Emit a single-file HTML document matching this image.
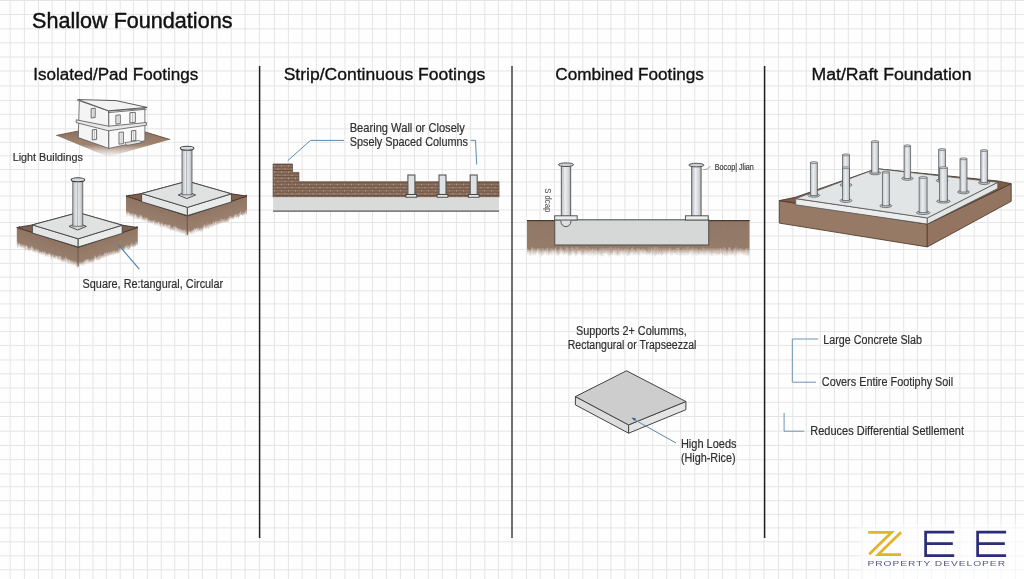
<!DOCTYPE html>
<html><head><meta charset="utf-8"><style>
html,body{margin:0;padding:0;background:#fff;width:1024px;height:579px;overflow:hidden}
svg{display:block;will-change:transform}
text{font-family:"Liberation Sans",sans-serif}
</style></head><body>
<svg width="1024" height="579" viewBox="0 0 1024 579">
<rect width="1024" height="579" fill="#fefefe"/>
<path d="M10.2 0V579 M24.4 0V579 M38.4 0V579 M52.1 0V579 M65.6 0V579 M79.6 0V579 M93.0 0V579 M106.3 0V579 M120.2 0V579 M133.4 0V579 M147.4 0V579 M161.3 0V579 M174.7 0V579 M188.6 0V579 M202.4 0V579 M216.8 0V579 M231.2 0V579 M245.1 0V579 M259.4 0V579 M274.4 0V579 M288.4 0V579 M302.1 0V579 M316.4 0V579 M330.5 0V579 M344.9 0V579 M358.9 0V579 M372.5 0V579 M386.4 0V579 M400.4 0V579 M414.4 0V579 M428.4 0V579 M442.3 0V579 M456.4 0V579 M470.6 0V579 M484.8 0V579 M498.4 0V579 M512.0 0V579 M526.4 0V579 M540.2 0V579 M554.4 0V579 M568.8 0V579 M582.8 0V579 M597.7 0V579 M610.9 0V579 M624.9 0V579 M638.6 0V579 M652.7 0V579 M666.7 0V579 M680.6 0V579 M694.7 0V579 M708.3 0V579 M722.5 0V579 M736.1 0V579 M749.8 0V579 M764.0 0V579 M778.6 0V579 M792.8 0V579 M806.3 0V579 M820.3 0V579 M834.4 0V579 M848.3 0V579 M862.0 0V579 M875.7 0V579 M889.8 0V579 M903.7 0V579 M917.4 0V579 M931.4 0V579 M945.4 0V579 M959.8 0V579 M974.2 0V579 M987.9 0V579 M1001.1 0V579 M1015.4 0V579 M0 0.5H1024 M0 14.5H1024 M0 28.8H1024 M0 42.8H1024 M0 57.0H1024 M0 71.0H1024 M0 86.0H1024 M0 100.4H1024 M0 114.4H1024 M0 128.8H1024 M0 142.3H1024 M0 155.8H1024 M0 169.5H1024 M0 182.0H1024 M0 196.0H1024 M0 210.0H1024 M0 222.5H1024 M0 236.0H1024 M0 249.5H1024 M0 263.3H1024 M0 277.1H1024 M0 290.8H1024 M0 303.9H1024 M0 317.8H1024 M0 331.6H1024 M0 345.4H1024 M0 360.0H1024 M0 373.8H1024 M0 388.0H1024 M0 402.3H1024 M0 416.5H1024 M0 431.2H1024 M0 445.4H1024 M0 459.7H1024 M0 473.9H1024 M0 486.7H1024 M0 500.7H1024 M0 514.4H1024 M0 527.9H1024 M0 541.8H1024 M0 555.8H1024 M0 569.8H1024" stroke="#e5e5e5" stroke-width="1" fill="none"/>
<path d="M259.6 66V538M764.6 66V538" stroke="#222" stroke-width="1.5"/>
<path d="M512 66V538" stroke="#444" stroke-width="1.5"/>
<text x="32" y="28.1" font-size="22" textLength="200.5" lengthAdjust="spacingAndGlyphs" fill="#111" stroke="#111" stroke-width="0.45">Shallow Foundations</text>
<text x="33.2" y="80.3" font-size="17.3" textLength="165" lengthAdjust="spacingAndGlyphs" fill="#111" stroke="#111" stroke-width="0.35">Isolated/Pad Footings</text>
<text x="283.7" y="80.3" font-size="17.3" textLength="201.5" lengthAdjust="spacingAndGlyphs" fill="#111" stroke="#111" stroke-width="0.35">Strip/Continuous Footings</text>
<text x="555.3" y="80.3" font-size="17.3" textLength="148.5" lengthAdjust="spacingAndGlyphs" fill="#111" stroke="#111" stroke-width="0.35">Combined Footings</text>
<text x="811.5" y="80.3" font-size="17.3" textLength="160" lengthAdjust="spacingAndGlyphs" fill="#111" stroke="#111" stroke-width="0.35">Mat/Raft Foundation</text>
<text x="12.7" y="161.3" font-size="11.7" textLength="70.2" lengthAdjust="spacingAndGlyphs" fill="#2e2e2e" stroke="#2e2e2e" stroke-width="0.18">Light Buildings</text>
<text x="82.6" y="287.9" font-size="12.3" textLength="140.6" lengthAdjust="spacingAndGlyphs" fill="#2e2e2e" stroke="#2e2e2e" stroke-width="0.18">Square, Re:tangural, Circular</text>
<text x="349.7" y="131.7" font-size="12.8" textLength="115.2" lengthAdjust="spacingAndGlyphs" fill="#2e2e2e" stroke="#2e2e2e" stroke-width="0.18">Bearing Wall or Closely</text>
<text x="349.7" y="146" font-size="12.8" textLength="118.3" lengthAdjust="spacingAndGlyphs" fill="#2e2e2e" stroke="#2e2e2e" stroke-width="0.18">Spsely Spaced Columns</text>
<text x="575.9" y="334.9" font-size="12.3" textLength="110.8" lengthAdjust="spacingAndGlyphs" fill="#2e2e2e" stroke="#2e2e2e" stroke-width="0.18">Supports 2+ Columms,</text>
<text x="567.7" y="348.7" font-size="12.3" textLength="128.7" lengthAdjust="spacingAndGlyphs" fill="#2e2e2e" stroke="#2e2e2e" stroke-width="0.18">Rectangural or Trapseezzal</text>
<text x="680.9" y="448.1" font-size="12.3" textLength="55.6" lengthAdjust="spacingAndGlyphs" fill="#2e2e2e" stroke="#2e2e2e" stroke-width="0.18">High Loeds</text>
<text x="680.9" y="461.7" font-size="12.3" textLength="54.7" lengthAdjust="spacingAndGlyphs" fill="#2e2e2e" stroke="#2e2e2e" stroke-width="0.18">(High-Rice)</text>
<text x="823.3" y="343.8" font-size="12.3" textLength="98.6" lengthAdjust="spacingAndGlyphs" fill="#2e2e2e" stroke="#2e2e2e" stroke-width="0.18">Large Concrete Slab</text>
<text x="821.8" y="385.9" font-size="12.3" textLength="131.4" lengthAdjust="spacingAndGlyphs" fill="#2e2e2e" stroke="#2e2e2e" stroke-width="0.18">Covers Entire Footiphy Soil</text>
<text x="810.3" y="434.5" font-size="12.3" textLength="153.7" lengthAdjust="spacingAndGlyphs" fill="#2e2e2e" stroke="#2e2e2e" stroke-width="0.18">Reduces Differential Setllement</text>
<text x="714.8" y="169.5" font-size="8.6" textLength="39" lengthAdjust="spacingAndGlyphs" fill="#3a3a3a" stroke="#3a3a3a" stroke-width="0.18">Bocop| Jlian</text>

<defs>
<linearGradient id="soilL" x1="0" y1="0" x2="0" y2="1">
 <stop offset="0" stop-color="#8a6a56"/><stop offset="0.55" stop-color="#9a7b67"/><stop offset="1" stop-color="#a88c7a" stop-opacity="0"/>
</linearGradient>
<linearGradient id="soilR" x1="0" y1="0" x2="0" y2="1">
 <stop offset="0" stop-color="#93735e"/><stop offset="0.55" stop-color="#a0826e"/><stop offset="1" stop-color="#b0948a" stop-opacity="0"/>
</linearGradient>
<linearGradient id="soilC" x1="0" y1="0" x2="0" y2="1">
 <stop offset="0" stop-color="#8f7664"/><stop offset="0.78" stop-color="#957c6a"/><stop offset="1" stop-color="#b09a8a" stop-opacity="0"/>
</linearGradient>
<linearGradient id="ground" x1="0" y1="0" x2="0" y2="1">
 <stop offset="0" stop-color="#8e705e"/><stop offset="0.55" stop-color="#a08472"/><stop offset="1" stop-color="#b8a090" stop-opacity="0"/>
</linearGradient>
<linearGradient id="col" x1="0" y1="0" x2="1" y2="0">
 <stop offset="0" stop-color="#9ea3a8"/><stop offset="0.35" stop-color="#e6e8ea"/><stop offset="0.7" stop-color="#c4c8cc"/><stop offset="1" stop-color="#8e9398"/>
</linearGradient>
<linearGradient id="soilFL" gradientUnits="userSpaceOnUse" x1="0" y1="154.9" x2="0" y2="174.9" gradientTransform="skewY(18.05)">
 <stop offset="0" stop-color="#8f7462"/><stop offset="0.72" stop-color="#977d6c"/><stop offset="1" stop-color="#b49e90" stop-opacity="0"/>
</linearGradient>
<linearGradient id="soilFR" gradientUnits="userSpaceOnUse" x1="0" y1="279" x2="0" y2="299" gradientTransform="skewY(-18.56)">
 <stop offset="0" stop-color="#927664"/><stop offset="0.72" stop-color="#997f6d"/><stop offset="1" stop-color="#b49e90" stop-opacity="0"/>
</linearGradient>
<linearGradient id="colL" x1="0" y1="0" x2="1" y2="0">
 <stop offset="0" stop-color="#b4b8bc"/><stop offset="0.4" stop-color="#eceef0"/><stop offset="0.75" stop-color="#d4d7da"/><stop offset="1" stop-color="#a8adb2"/>
</linearGradient>
<filter id="soft" x="-10%" y="-20%" width="120%" height="140%"><feGaussianBlur stdDeviation="3"/></filter>
<filter id="rag" x="-5%" y="-10%" width="110%" height="130%"><feTurbulence type="fractalNoise" baseFrequency="0.35 0.12" numOctaves="3" seed="7"/><feColorMatrix type="matrix" values="0 0 0 0 0.5  0 1 0 0 0  0 0 1 0 0  0 0 0 0 1"/><feDisplacementMap in="SourceGraphic" scale="4.5" xChannelSelector="R" yChannelSelector="G"/></filter>
<pattern id="brick" width="7" height="6.2" patternUnits="userSpaceOnUse" y="182.5">
 <rect width="7" height="6.2" fill="#8e7262"/>
 <path d="M0 0.5H7M0 3.6H7" stroke="#624838" stroke-width="0.9"/>
 <path d="M1.5 1.1V3M5 4.2V6" stroke="#b3a090" stroke-width="0.7"/>
</pattern>
</defs>

<g><polygon points="56.3,135.5 82.0,130.5 145.0,131.9 170.2,139.6 108.4,157.0" fill="url(#ground)"/><path d="M56.3 135.5L78.3 131M145 131.9L170.2 139.6" stroke="#5a4030" stroke-width="0.8" fill="none"/><polygon points="79.3,100.8 108.8,111.0 108.8,148.4 78.3,137.6" fill="#f4f4f4" stroke="#5a5a5a" stroke-width="0.8"/><polygon points="108.8,111.0 144.9,108.6 144.9,140.7 108.8,148.4" fill="#fafafa" stroke="#5a5a5a" stroke-width="0.8"/><polygon points="77.8,99.6 116.0,100.6 147.2,107.4 108.5,110.8" fill="#f2f2f2" stroke="#4a4a4a" stroke-width="0.9"/><path d="M108.5 110.8V112.6M77.8 99.6V101.2M108.5 112.6L146.6 109.2" stroke="#555" stroke-width="0.8" fill="none"/><polygon points="76.2,119.8 108.6,126.2 146.4,122.5 146.4,125.2 108.6,130.8 76.2,122.6" fill="#e8e8e8" stroke="#555" stroke-width="0.8"/><path d="M91.2 118.0V108.6L95.2 108.19999999999999V117.4Z" fill="#f4f4f4" stroke="#555" stroke-width="0.85"/><path d="M93.2 108.6V117.4" stroke="#888" stroke-width="0.5"/><path d="M92.3 140.0V129.8L96.6 129.4V139.4Z" fill="#f4f4f4" stroke="#555" stroke-width="0.85"/><path d="M94.4 129.8V139.4" stroke="#888" stroke-width="0.5"/><path d="M115.9 124.19999999999999V115.3L120.3 114.89999999999999V123.6Z" fill="#f4f4f4" stroke="#555" stroke-width="0.85"/><path d="M118.1 115.3V123.6" stroke="#888" stroke-width="0.5"/><path d="M129.9 122.89999999999999V112.7L135.3 112.3V122.3Z" fill="#f4f4f4" stroke="#555" stroke-width="0.85"/><path d="M132.6 112.7V122.3" stroke="#888" stroke-width="0.5"/><path d="M119 144.2V132.4L123.4 132.0V143.6Z" fill="#f4f4f4" stroke="#555" stroke-width="0.85"/><path d="M121.2 132.4V143.6" stroke="#888" stroke-width="0.5"/><path d="M131.4 141.1V130.8L135.8 130.4V140.5Z" fill="#f4f4f4" stroke="#555" stroke-width="0.85"/><path d="M133.6 130.8V140.5" stroke="#888" stroke-width="0.5"/><path d="M124.7 142.6L139.5 140.4L142 142.6L127 145.5Z" fill="#e0e0e0" stroke="#555" stroke-width="0.7"/></g>
<g><polygon points="126.0,194.6 187.4,214.5 187.4,236.0 126.0,216.0" fill="url(#soilFL)" filter="url(#rag)"/><polygon points="187.4,214.5 247.0,194.6 247.0,214.0 187.4,236.0" fill="url(#soilFR)" filter="url(#rag)"/><polygon points="126.0,196.1 141.6,193.5 187.4,181.2 231.4,193.8 247.0,196.1 187.4,216.0" fill="#7e5f50" stroke="#3e3028" stroke-width="0.9"/><path d="M187.4 216V235" stroke="#5a4538" stroke-width="0.8"/><polygon points="141.6,193.5 187.4,207.4 187.4,215.6 141.6,201.7" fill="#e4e6e6" stroke="#444" stroke-width="0.9"/><polygon points="187.4,207.4 231.4,193.8 231.4,202.0 187.4,215.6" fill="#eaecec" stroke="#444" stroke-width="0.9"/><polygon points="141.6,193.5 187.4,181.2 231.4,193.8 187.4,207.4" fill="#e0e2e2" stroke="#444" stroke-width="0.9"/><polygon points="178.2,195.0 186.8,191.2 195.6,195.0 186.8,198.6" fill="#d4d7d9" stroke="#444" stroke-width="0.9"/><rect x="182" y="149.6" width="10" height="45.2" fill="url(#colL)" stroke="#555" stroke-width="0.8"/><path d="M186.6 151V195" stroke="#8a8e92" stroke-width="0.6"/><ellipse cx="187.1" cy="148.3" rx="6.8" ry="2" fill="#d8dadc" stroke="#3e3e3e" stroke-width="1.1"/></g>
<g transform="translate(-109.2,31.4)"><polygon points="126.0,194.6 187.4,214.5 187.4,236.0 126.0,216.0" fill="url(#soilFL)" filter="url(#rag)"/><polygon points="187.4,214.5 247.0,194.6 247.0,214.0 187.4,236.0" fill="url(#soilFR)" filter="url(#rag)"/><polygon points="126.0,196.1 141.6,193.5 187.4,181.2 231.4,193.8 247.0,196.1 187.4,216.0" fill="#7e5f50" stroke="#3e3028" stroke-width="0.9"/><path d="M187.4 216V235" stroke="#5a4538" stroke-width="0.8"/><polygon points="141.6,193.5 187.4,207.4 187.4,215.6 141.6,201.7" fill="#e4e6e6" stroke="#444" stroke-width="0.9"/><polygon points="187.4,207.4 231.4,193.8 231.4,202.0 187.4,215.6" fill="#eaecec" stroke="#444" stroke-width="0.9"/><polygon points="141.6,193.5 187.4,181.2 231.4,193.8 187.4,207.4" fill="#e0e2e2" stroke="#444" stroke-width="0.9"/><polygon points="178.2,195.0 186.8,191.2 195.6,195.0 186.8,198.6" fill="#d4d7d9" stroke="#444" stroke-width="0.9"/><rect x="182" y="149.6" width="10" height="45.2" fill="url(#colL)" stroke="#555" stroke-width="0.8"/><path d="M186.6 151V195" stroke="#8a8e92" stroke-width="0.6"/><ellipse cx="187.1" cy="148.3" rx="6.8" ry="2" fill="#d8dadc" stroke="#3e3e3e" stroke-width="1.1"/></g>
<path d="M118.3 244.7L139.3 269.2" stroke="#4a7faa" stroke-width="1.1"/>
<polygon points="273.1,164.0 292.5,164.0 292.5,172.4 298.9,172.4 298.9,181.8 499.0,181.8 499.0,197.2 273.1,197.2" fill="url(#brick)" stroke="#5a4436" stroke-width="0.7"/>
<rect x="273.1" y="197.2" width="225.9" height="13.6" fill="#d9dada"/>
<path d="M273.1 211.2H499" stroke="#555" stroke-width="1.3"/>
<rect x="407.9" y="175" width="7" height="19.5" fill="#dfe2e5" stroke="#555" stroke-width="1.1"/>
<rect x="406.0" y="194.5" width="10.8" height="2.7" fill="#e5e6e6" stroke="#333" stroke-width="0.8"/>
<rect x="439.0" y="175" width="7" height="19.5" fill="#dfe2e5" stroke="#555" stroke-width="1.1"/>
<rect x="437.1" y="194.5" width="10.8" height="2.7" fill="#e5e6e6" stroke="#333" stroke-width="0.8"/>
<rect x="470.2" y="175" width="7" height="19.5" fill="#dfe2e5" stroke="#555" stroke-width="1.1"/>
<rect x="468.3" y="194.5" width="10.8" height="2.7" fill="#e5e6e6" stroke="#333" stroke-width="0.8"/>
<path d="M287.7 160.7L310.5 140.4H344" stroke="#5a8ab0" stroke-width="1" fill="none"/>
<path d="M470.7 140.4H475.5L476.7 164.5" stroke="#5a8ab0" stroke-width="1" fill="none"/>
<clipPath id="clipC"><rect x="527" y="220.2" width="222.7" height="45"/></clipPath>
<g clip-path="url(#clipC)"><rect x="527" y="217" width="222.7" height="39" fill="url(#soilC)" filter="url(#rag)"/></g>
<path d="M527 220.6H749.7" stroke="#4a3a30" stroke-width="1.4"/>
<rect x="554.7" y="219.8" width="154" height="25.2" fill="#d6d8d8" stroke="#555" stroke-width="1.1"/>
<rect x="561.3" y="165.9" width="9.4" height="50.599999999999994" fill="url(#colL)" stroke="#555" stroke-width="0.9"/>
<rect x="554.7" y="215.8" width="22.5" height="4.2" fill="#eceded" stroke="#444" stroke-width="0.9"/>
<ellipse cx="566" cy="164.70000000000002" rx="7.6" ry="1.8" fill="#cfd2d4" stroke="#444" stroke-width="0.9"/>
<rect x="691.6999999999999" y="166.3" width="9.4" height="50.19999999999999" fill="url(#colL)" stroke="#555" stroke-width="0.9"/>
<rect x="685.4" y="215.8" width="22.800000000000068" height="4.2" fill="#eceded" stroke="#444" stroke-width="0.9"/>
<ellipse cx="696.4" cy="165.10000000000002" rx="7.6" ry="1.8" fill="#cfd2d4" stroke="#444" stroke-width="0.9"/>
<path d="M560.8 220.8Q561.2 226.4 565.9 226.6Q570.6 226.4 571 220.8" fill="#dfe1e1" stroke="#444" stroke-width="0.9"/>
<text x="0" y="0" font-size="9.4" fill="#444" textLength="24.2" lengthAdjust="spacingAndGlyphs" transform="translate(545.2,188.2) rotate(90)">S dcap</text>
<path d="M703.3 169.5Q708 170 710.2 166" stroke="#888" stroke-width="0.8" fill="none"/>
<polygon points="575.4,396.6 628.6,424.9 628.6,433.2 575.4,404.9" fill="#dcdcdc" stroke="#444" stroke-width="1"/>
<polygon points="628.6,424.9 685.9,401.5 685.9,409.7 628.6,433.2" fill="#e4e4e4" stroke="#444" stroke-width="1"/>
<polygon points="575.4,396.6 626.5,370.8 685.9,401.5 628.6,424.9" fill="#cdcdcd" stroke="#444" stroke-width="1"/>
<path d="M632.7 418.7L676 443" stroke="#5a8ab0" stroke-width="1"/>
<path d="M631.5 417.6L636 418.6L634.5 420.8Z" fill="#2a5a88"/>
<polygon points="779.3,200.6 927.3,224.1 927.3,246.9 779.3,223.1" fill="#967a66" stroke="#54402f" stroke-width="0.9"/>
<polygon points="927.3,224.1 1011.2,183.7 1011.2,201.3 927.3,246.9" fill="#927460" stroke="#54402f" stroke-width="0.9"/>
<polygon points="779.3,200.6 795.7,197.2 876.6,168.7 997.8,181.0 1011.2,183.7 927.3,224.1" fill="#7c5c48" stroke="#4e3a2e" stroke-width="0.9"/>
<polygon points="795.7,198.6 927.3,217.9 927.3,224.1 795.7,204.8" fill="#eceeee" stroke="#555" stroke-width="0.8"/>
<polygon points="927.3,217.9 997.8,182.3 997.8,188.5 927.3,224.1" fill="#e4e6e6" stroke="#555" stroke-width="0.8"/>
<polygon points="795.7,198.6 876.6,168.7 997.8,182.3 927.3,217.9" fill="#e2e5e6" stroke="#555" stroke-width="0.8"/>
<ellipse cx="875" cy="173" rx="5.609999999999999" ry="1.8" fill="#c4c8cc" stroke="#555" stroke-width="0.7"/>
<rect x="871.7" y="141.6" width="6.6" height="31.400000000000006" fill="url(#colL)" stroke="#555" stroke-width="0.7"/>
<ellipse cx="875" cy="141.6" rx="3.3" ry="1" fill="#d0d3d6" stroke="#555" stroke-width="0.6"/>
<ellipse cx="907.4" cy="178.5" rx="5.609999999999999" ry="1.8" fill="#c4c8cc" stroke="#555" stroke-width="0.7"/>
<rect x="904.1" y="145.8" width="6.6" height="32.69999999999999" fill="url(#colL)" stroke="#555" stroke-width="0.7"/>
<ellipse cx="907.4" cy="145.8" rx="3.3" ry="1" fill="#d0d3d6" stroke="#555" stroke-width="0.6"/>
<ellipse cx="942.1" cy="180.6" rx="5.779999999999999" ry="1.8" fill="#c4c8cc" stroke="#555" stroke-width="0.7"/>
<rect x="938.7" y="149.5" width="6.8" height="31.099999999999994" fill="url(#colL)" stroke="#555" stroke-width="0.7"/>
<ellipse cx="942.1" cy="149.5" rx="3.4" ry="1" fill="#d0d3d6" stroke="#555" stroke-width="0.6"/>
<ellipse cx="984.1" cy="182.7" rx="5.609999999999999" ry="1.8" fill="#c4c8cc" stroke="#555" stroke-width="0.7"/>
<rect x="980.8000000000001" y="150.5" width="6.6" height="32.19999999999999" fill="url(#colL)" stroke="#555" stroke-width="0.7"/>
<ellipse cx="984.1" cy="150.5" rx="3.3" ry="1" fill="#d0d3d6" stroke="#555" stroke-width="0.6"/>
<ellipse cx="846" cy="185" rx="5.95" ry="1.8" fill="#c4c8cc" stroke="#555" stroke-width="0.7"/>
<rect x="842.5" y="154.9" width="7" height="30.099999999999994" fill="url(#colL)" stroke="#555" stroke-width="0.7"/>
<ellipse cx="846" cy="154.9" rx="3.5" ry="1" fill="#d0d3d6" stroke="#555" stroke-width="0.6"/>
<ellipse cx="963.5" cy="192" rx="5.95" ry="1.8" fill="#c4c8cc" stroke="#555" stroke-width="0.7"/>
<rect x="960.0" y="158.8" width="7" height="33.19999999999999" fill="url(#colL)" stroke="#555" stroke-width="0.7"/>
<ellipse cx="963.5" cy="158.8" rx="3.5" ry="1" fill="#d0d3d6" stroke="#555" stroke-width="0.6"/>
<ellipse cx="813.8" cy="195.4" rx="5.95" ry="1.8" fill="#c4c8cc" stroke="#555" stroke-width="0.7"/>
<rect x="810.3" y="162.6" width="7" height="32.80000000000001" fill="url(#colL)" stroke="#555" stroke-width="0.7"/>
<ellipse cx="813.8" cy="162.6" rx="3.5" ry="1" fill="#d0d3d6" stroke="#555" stroke-width="0.6"/>
<ellipse cx="846" cy="200.6" rx="5.95" ry="1.8" fill="#c4c8cc" stroke="#555" stroke-width="0.7"/>
<rect x="842.5" y="167.8" width="7" height="32.79999999999998" fill="url(#colL)" stroke="#555" stroke-width="0.7"/>
<ellipse cx="846" cy="167.8" rx="3.5" ry="1" fill="#d0d3d6" stroke="#555" stroke-width="0.6"/>
<ellipse cx="943.4" cy="201.3" rx="6.8" ry="1.8" fill="#c4c8cc" stroke="#555" stroke-width="0.7"/>
<rect x="939.4" y="167.7" width="8" height="33.60000000000002" fill="url(#colL)" stroke="#555" stroke-width="0.7"/>
<ellipse cx="943.4" cy="167.7" rx="4.0" ry="1" fill="#d0d3d6" stroke="#555" stroke-width="0.6"/>
<ellipse cx="885.8" cy="205.8" rx="5.95" ry="1.8" fill="#c4c8cc" stroke="#555" stroke-width="0.7"/>
<rect x="882.3" y="172.1" width="7" height="33.70000000000002" fill="url(#colL)" stroke="#555" stroke-width="0.7"/>
<ellipse cx="885.8" cy="172.1" rx="3.5" ry="1" fill="#d0d3d6" stroke="#555" stroke-width="0.6"/>
<ellipse cx="923.1" cy="212.7" rx="6.8" ry="1.8" fill="#c4c8cc" stroke="#555" stroke-width="0.7"/>
<rect x="919.1" y="177.5" width="8" height="35.19999999999999" fill="url(#colL)" stroke="#555" stroke-width="0.7"/>
<ellipse cx="923.1" cy="177.5" rx="4.0" ry="1" fill="#d0d3d6" stroke="#555" stroke-width="0.6"/>
<path d="M818.2 339H792.3V382.2H816" stroke="#6f93b5" stroke-width="1" fill="none"/>
<path d="M784.1 412.9V431.2H804.2" stroke="#6f93b5" stroke-width="1" fill="none"/>
<rect x="860" y="524" width="170" height="60" fill="#fff" opacity="0.65" filter="url(#soft)"/>
<path d="M868.2 532.4H891.5L869.2 554.2M901 532.2L878.2 554.6H901" stroke="#e2b42c" stroke-width="2.8" fill="none" stroke-linecap="butt" stroke-linejoin="miter"/>
<path d="M954.2 532.2H925.6V555.6H954.2M925.6 543.7H952.8" stroke="#2c2c78" stroke-width="2.7" fill="none"/>
<path d="M1006.1 532.2H977.6V555.6H1006.1M977.6 543.7H1004.8" stroke="#2c2c78" stroke-width="2.7" fill="none"/>
<text x="867.5" y="565.8" font-size="6.4" fill="#55558a" letter-spacing="0.6" textLength="138.5" lengthAdjust="spacingAndGlyphs">PROPERTY DEVELOPER</text>
</svg></body></html>
